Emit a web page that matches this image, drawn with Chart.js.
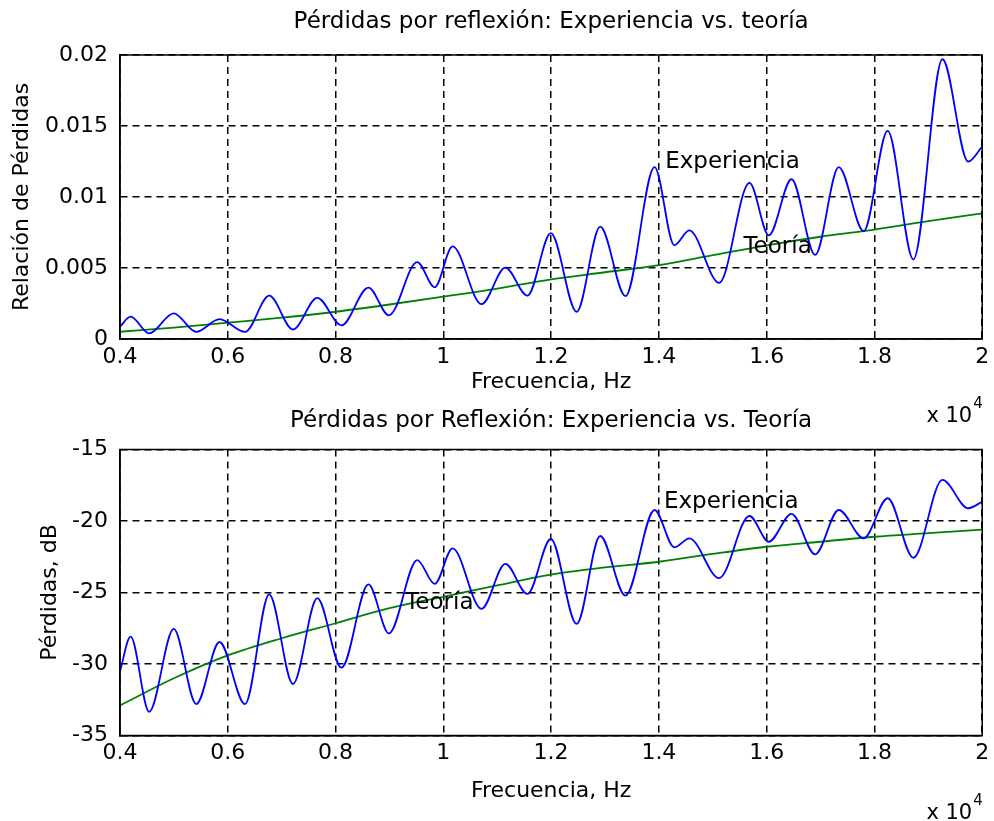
<!DOCTYPE html>
<html>
<head>
<meta charset="utf-8">
<script src="https://cdn.jsdelivr.net/npm/chart.js@4/dist/chart.umd.min.js"></script>
<style>
  html, body { margin: 0; padding: 0; background: #fff; }
  body { width: 994px; height: 821px; position: relative; overflow: hidden; }
  canvas { position: absolute; left: 0; }
  #c1 { top: 0; }
  #c2 { top: 400px; }
</style>
</head>
<body>
<canvas id="c1" width="994" height="430"></canvas>
<canvas id="c2" width="994" height="421"></canvas>
<script>
// ---------------- data ----------------
const xTickLabels = ['0.4', '0.6', '0.8', '1', '1.2', '1.4', '1.6', '1.8', '2'];
const topYTickLabels = ['0', '0.005', '0.01', '0.015', '0.02'];
const botYTickLabels = ['-35', '-30', '-25', '-20', '-15'];

// Experience curve: frequency (Hz) at each turning point
const expFreq = [4000, 4197, 4541, 4997, 5415, 5846, 6320, 6769, 7210, 7661, 8111, 8610, 8990,
  9515, 9840, 10172, 10708, 11151, 11560, 11995, 12474, 12911, 13380, 13920, 14287, 14565,
  15118, 15681, 16040, 16462, 16900, 17338, 17800, 18246, 18723, 19262, 19740, 20000];
// Loss ratio (linear)
const expRatio = [0.00087, 0.00157, 0.00040, 0.00180, 0.00050, 0.00140, 0.00050, 0.00305, 0.00067, 0.00290,
  0.00096, 0.00362, 0.00167, 0.00542, 0.00364, 0.00652, 0.00245, 0.00502, 0.00305, 0.00745,
  0.00191, 0.00792, 0.00302, 0.01210, 0.00660, 0.00765, 0.00395, 0.01100, 0.00730, 0.01125,
  0.00592, 0.01210, 0.00760, 0.01465, 0.00560, 0.01970, 0.01250, 0.01355];
// Loss in dB
const expDb = [-30.5, -28.09, -33.34, -27.55, -32.8, -28.46, -32.8, -25.13, -31.4, -25.4,
  -30.26, -24.43, -27.86, -22.73, -24.4, -21.91, -26.15, -23.0, -25.1, -21.26,
  -27.2, -21.05, -25.22, -19.23, -21.84, -21.21, -24.0, -19.65, -21.45, -19.5,
  -22.33, -19.23, -21.21, -18.41, -22.57, -17.13, -19.11, -18.65];

// Theory curve
const theoFreq = [4000, 5000, 6000, 7000, 8000, 9000, 10000, 11000, 12000, 13000, 14000,
  15000, 16000, 17000, 18000, 19000, 20000];
const theoRatio = [0.00051, 0.0008, 0.00115, 0.0015, 0.00192, 0.00243, 0.00298, 0.00355, 0.0042,
  0.0047, 0.0052, 0.0059, 0.0066, 0.0072, 0.0077, 0.0083, 0.00885];
const theoDb = [-32.9, -31.0, -29.4, -28.2, -27.15, -26.1, -25.3, -24.5, -23.75, -23.25, -22.85,
  -22.3, -21.8, -21.45, -21.1, -20.85, -20.6];

// Text labels placed at data coordinates
const topNotes = [
  { text: 'Experiencia', x: 14117, y: 0.01246 },
  { text: 'Teoría', x: 15570, y: 0.00648 }
];
const botNotes = [
  { text: 'Experiencia', x: 14093, y: -18.65 },
  { text: 'Teoría', x: 9293, y: -25.76 }
];

// ---------------- helpers ----------------
const FONT = 'DejaVu Sans';
const pts = (xs, ys) => xs.map((x, i) => ({ x: x, y: ys[i] }));

const framePlugin = {
  id: 'frame',
  afterDatasetsDraw(chart, args, opts) {
    const { ctx, chartArea: a, scales } = chart;
    ctx.save();
    ctx.strokeStyle = '#000';
    ctx.lineWidth = 1.5;
    ctx.setLineDash([]);
    ctx.strokeRect(a.left, a.top, a.right - a.left, a.bottom - a.top);
    ctx.fillStyle = '#000';
    ctx.font = '23px "' + FONT + '"';
    ctx.textAlign = 'left';
    ctx.textBaseline = 'middle';
    (opts.notes || []).forEach(n => {
      ctx.fillText(n.text, scales.x.getPixelForValue(n.x), scales.y.getPixelForValue(n.y));
    });
    // axis multiplier
    ctx.textBaseline = 'alphabetic';
    ctx.textAlign = 'right';
    ctx.font = '21px "' + FONT + '"';
    const bx = a.right - 10, by = a.bottom + 83;
    ctx.fillText('x 10', bx, by);
    ctx.textAlign = 'left';
    ctx.font = '15px "' + FONT + '"';
    ctx.fillText('4', bx + 1, by - 14);
    ctx.restore();
  }
};

function makeChart(id, cfg) {
  return new Chart(document.getElementById(id), {
    type: 'line',
    data: {
      datasets: [
        {
          data: cfg.exp, borderColor: '#0000ff', borderWidth: 1.8,
          pointRadius: 0, cubicInterpolationMode: 'monotone', fill: false
        },
        {
          data: cfg.theo, borderColor: '#008000', borderWidth: 1.8,
          pointRadius: 0, cubicInterpolationMode: 'monotone', fill: false
        }
      ]
    },
    options: {
      responsive: false,
      animation: false,
      layout: { padding: { left: 0, right: 7, top: 0, bottom: 0 } },
      plugins: {
        legend: { display: false },
        tooltip: { enabled: false },
        title: {
          display: true, text: cfg.title, color: '#000', fullSize: false,
          font: { family: FONT, size: 23, weight: 'normal' },
          padding: { top: cfg.titlePadTop, bottom: cfg.titlePadBottom }
        },
        frame: { notes: cfg.notes }
      },
      scales: {
        x: {
          type: 'linear', min: 4000, max: 20000,
          afterFit: s => { s.height = cfg.xHeight; },
          ticks: {
            stepSize: 2000, autoSkip: false, maxRotation: 0, padding: 4.8,
            color: '#000', font: { family: FONT, size: 22 },
            callback: (v, i) => xTickLabels[i]
          },
          grid: { color: '#000', lineWidth: 1.5, drawTicks: false },
          border: { color: '#000', width: 1.5, dash: [7, 5] },
          title: {
            display: true, text: 'Frecuencia, Hz', color: '#000',
            font: { family: FONT, size: 22 },
            padding: { top: 0, bottom: cfg.xTitlePad }
          }
        },
        y: {
          type: 'linear', min: cfg.yMin, max: cfg.yMax,
          afterFit: s => { s.width = 120; },
          ticks: {
            stepSize: cfg.yStep, autoSkip: false, padding: 12,
            color: '#000', font: { family: FONT, size: 22 },
            callback: (v, i) => cfg.yLabels[i]
          },
          grid: { color: '#000', lineWidth: 1.5, drawTicks: false },
          border: { color: '#000', width: 1.5, dash: [7, 5] },
          title: {
            display: true, text: cfg.yTitle, color: '#000',
            font: { family: FONT, size: 22 },
            padding: { top: cfg.yTitlePad, bottom: 0 }
          }
        }
      }
    },
    plugins: [framePlugin]
  });
}

makeChart('c1', {
  exp: pts(expFreq, expRatio),
  theo: pts(theoFreq, theoRatio),
  title: 'Pérdidas por reflexión: Experiencia vs. teoría',
  titlePadTop: 8.2, titlePadBottom: 19.2,
  xHeight: 91, xTitlePad: 34.8,
  yMin: 0, yMax: 0.02, yStep: 0.005, yLabels: topYTickLabels,
  yTitle: 'Relación de Pérdidas', yTitlePad: 8.8,
  notes: topNotes
});

makeChart('c2', {
  exp: pts(expFreq, expDb),
  theo: pts(theoFreq, theoDb),
  title: 'Pérdidas por Reflexión: Experiencia vs. Teoría',
  titlePadTop: 7.2, titlePadBottom: 14.7,
  xHeight: 85.5, xTitlePad: 16.3,
  yMin: -35, yMax: -15, yStep: 5, yLabels: botYTickLabels,
  yTitle: 'Pérdidas, dB', yTitlePad: 36.8,
  notes: botNotes
});
</script>
</body>
</html>
